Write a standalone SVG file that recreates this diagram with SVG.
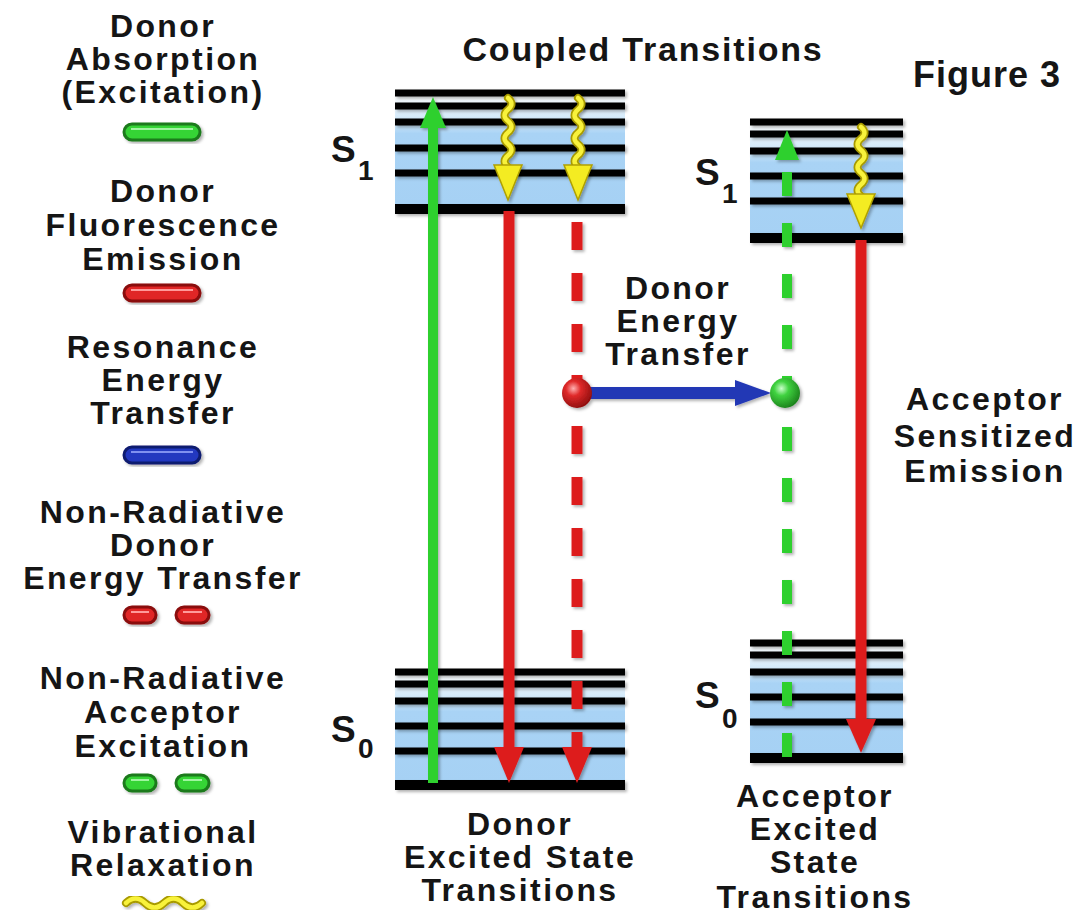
<svg xmlns="http://www.w3.org/2000/svg" width="1078" height="916" viewBox="0 0 1078 916">
<defs>
<style>
text{font-family:"Liberation Sans",Arial,Helvetica,sans-serif;font-weight:bold;fill:#151515}
.t{font-size:32px;letter-spacing:2.4px;text-anchor:middle}
.ttl{font-size:34px;letter-spacing:1.8px;text-anchor:middle}
.fig{font-size:36px;letter-spacing:1px;text-anchor:middle}
.s{font-size:37px}
.sub{font-size:28px}
.lv{stroke:#000;stroke-width:7;fill:none}
.lvb{stroke:#000;stroke-width:10;fill:none}
.grn{stroke:#2fd02f;stroke-width:10;fill:none}
.red{stroke:#dd1f1f;stroke-width:11;fill:none}
.gh{fill:#2fd02f}
.rh{fill:#dd1f1f}
.yo{stroke:#a89a00;stroke-width:8;fill:none;stroke-linecap:round}
.yi{stroke:#f8f23a;stroke-width:4.5;fill:none;stroke-linecap:round}
.yh{fill:#f4ec22;stroke:#b0a000;stroke-width:1.5}
</style>
<linearGradient id="bgS1" x1="0" y1="0" x2="0" y2="1">
<stop offset="0" stop-color="#ffffff"/><stop offset="0.28" stop-color="#c6e3f8"/><stop offset="0.35" stop-color="#a9d3f5"/><stop offset="1" stop-color="#a6d1f4"/>
</linearGradient>
<radialGradient id="rs" cx="0.38" cy="0.35" r="0.7">
<stop offset="0" stop-color="#ffb0b0"/><stop offset="0.35" stop-color="#e02a2a"/><stop offset="1" stop-color="#8a0c0c"/>
</radialGradient>
<radialGradient id="gs" cx="0.38" cy="0.35" r="0.7">
<stop offset="0" stop-color="#caffca"/><stop offset="0.35" stop-color="#3fd23f"/><stop offset="1" stop-color="#1a7d1a"/>
</radialGradient>
<filter id="sh" x="-20%" y="-20%" width="140%" height="140%">
<feDropShadow dx="2" dy="2" stdDeviation="1.5" flood-color="#000" flood-opacity="0.3"/>
</filter>
</defs>
<rect width="1078" height="916" fill="#ffffff"/>

<g id="title">
<text class="ttl" x="643" y="61">Coupled Transitions</text>
<text class="fig" x="987" y="87">Figure 3</text>
</g>

<g id="legend">
<g id="legend-absorption">
<text class="t" x="163" y="37">Donor</text>
<text class="t" x="163" y="70">Absorption</text>
<text class="t" x="163" y="103">(Excitation)</text>
<rect x="124" y="124" width="76" height="16" rx="8" fill="#35d435" stroke="#1b7a1b" stroke-width="3" filter="url(#sh)"/>
<line x1="131" y1="129" x2="193" y2="129" stroke="#9ff59f" stroke-width="2"/>
</g>
<g id="legend-fluorescence">
<text class="t" x="163" y="202">Donor</text>
<text class="t" x="163" y="236">Fluorescence</text>
<text class="t" x="163" y="270">Emission</text>
<rect x="124" y="285" width="76" height="16" rx="8" fill="#e02626" stroke="#8a0c0c" stroke-width="3" filter="url(#sh)"/>
<line x1="131" y1="290" x2="193" y2="290" stroke="#ff9a9a" stroke-width="2"/>
</g>
<g id="legend-resonance">
<text class="t" x="163" y="358">Resonance</text>
<text class="t" x="163" y="391">Energy</text>
<text class="t" x="163" y="424">Transfer</text>
<rect x="124" y="447" width="76" height="16" rx="8" fill="#2339c0" stroke="#101a70" stroke-width="3" filter="url(#sh)"/>
<line x1="131" y1="452" x2="193" y2="452" stroke="#7f90f0" stroke-width="2"/>
</g>
<g id="legend-nonrad-donor">
<text class="t" x="163" y="523">Non-Radiative</text>
<text class="t" x="163" y="556">Donor</text>
<text class="t" x="163" y="589">Energy Transfer</text>
<rect x="124" y="607" width="32" height="16" rx="8" fill="#e02626" stroke="#8a0c0c" stroke-width="3" filter="url(#sh)"/>
<rect x="176" y="607" width="33" height="16" rx="8" fill="#e02626" stroke="#8a0c0c" stroke-width="3" filter="url(#sh)"/>
<line x1="131" y1="612" x2="149" y2="612" stroke="#ff9a9a" stroke-width="2"/>
<line x1="183" y1="612" x2="202" y2="612" stroke="#ff9a9a" stroke-width="2"/>
</g>
<g id="legend-nonrad-acceptor">
<text class="t" x="163" y="689">Non-Radiative</text>
<text class="t" x="163" y="723">Acceptor</text>
<text class="t" x="163" y="757">Excitation</text>
<rect x="124" y="775" width="32" height="16" rx="8" fill="#35d435" stroke="#1b7a1b" stroke-width="3" filter="url(#sh)"/>
<rect x="176" y="775" width="33" height="16" rx="8" fill="#35d435" stroke="#1b7a1b" stroke-width="3" filter="url(#sh)"/>
<line x1="131" y1="780" x2="149" y2="780" stroke="#9ff59f" stroke-width="2"/>
<line x1="183" y1="780" x2="202" y2="780" stroke="#9ff59f" stroke-width="2"/>
</g>
<g id="legend-vibrational">
<text class="t" x="163" y="843">Vibrational</text>
<text class="t" x="163" y="876">Relaxation</text>
<g filter="url(#sh)">
<path class="yo" d="M126,903 q9.5,-9 19,0 t19,0 t19,0 t19,0"/>
<path class="yi" d="M126,903 q9.5,-9 19,0 t19,0 t19,0 t19,0"/>
</g>
</g>
</g>

<g id="donor-S1">
<rect x="395" y="93" width="230" height="116" fill="url(#bgS1)"/>
<g filter="url(#sh)">
<line class="lv" x1="395" y1="93" x2="625" y2="93"/>
<line class="lv" x1="395" y1="106" x2="625" y2="106"/>
<line class="lv" x1="395" y1="122" x2="625" y2="122"/>
<line class="lv" x1="395" y1="148" x2="625" y2="148"/>
<line class="lv" x1="395" y1="173" x2="625" y2="173"/>
<line class="lvb" x1="395" y1="209" x2="625" y2="209"/>
</g>
<text class="s" x="331" y="162">S</text><text class="sub" x="358" y="180">1</text>
</g>

<g id="donor-S0">
<rect x="395" y="672" width="230" height="113" fill="url(#bgS1)"/>
<g filter="url(#sh)">
<line class="lv" x1="395" y1="672" x2="625" y2="672"/>
<line class="lv" x1="395" y1="684" x2="625" y2="684"/>
<line class="lv" x1="395" y1="701" x2="625" y2="701"/>
<line class="lv" x1="395" y1="726" x2="625" y2="726"/>
<line class="lv" x1="395" y1="751" x2="625" y2="751"/>
<line class="lvb" x1="395" y1="785" x2="625" y2="785"/>
</g>
<text class="s" x="331" y="742">S</text><text class="sub" x="358" y="758">0</text>
</g>

<g id="acceptor-S1">
<rect x="750" y="122" width="153" height="116" fill="url(#bgS1)"/>
<g filter="url(#sh)">
<line class="lv" x1="750" y1="122" x2="903" y2="122"/>
<line class="lv" x1="750" y1="134" x2="903" y2="134"/>
<line class="lv" x1="750" y1="151" x2="903" y2="151"/>
<line class="lv" x1="750" y1="176" x2="903" y2="176"/>
<line class="lv" x1="750" y1="201" x2="903" y2="201"/>
<line class="lvb" x1="750" y1="238" x2="903" y2="238"/>
</g>
<text class="s" x="695" y="185">S</text><text class="sub" x="722" y="203">1</text>
</g>

<g id="acceptor-S0">
<rect x="750" y="643" width="153" height="115" fill="url(#bgS1)"/>
<g filter="url(#sh)">
<line class="lv" x1="750" y1="643" x2="903" y2="643"/>
<line class="lv" x1="750" y1="655" x2="903" y2="655"/>
<line class="lv" x1="750" y1="672" x2="903" y2="672"/>
<line class="lv" x1="750" y1="697" x2="903" y2="697"/>
<line class="lv" x1="750" y1="722" x2="903" y2="722"/>
<line class="lvb" x1="750" y1="758" x2="903" y2="758"/>
</g>
<text class="s" x="695" y="708">S</text><text class="sub" x="722" y="728">0</text>
</g>

<g id="connectors" filter="url(#sh)">
<line class="grn" x1="433" y1="783" x2="433" y2="124"/>
<polygon class="gh" points="420,128 446,128 433,97"/>
<line class="red" x1="509" y1="211" x2="509" y2="750"/>
<polygon class="rh" points="494,747 524,747 509,783"/>
<line class="red" x1="577" y1="222" x2="577" y2="750" stroke-dasharray="28 23"/>
<polygon class="rh" points="562,747 592,747 577,783"/>
<line class="grn" x1="787" y1="757" x2="787" y2="158" stroke-dasharray="24 27"/>
<polygon class="gh" points="775,160 799,160 787,130"/>
<line class="red" x1="861" y1="240" x2="861" y2="722"/>
<polygon class="rh" points="846,719 876,719 861,753"/>
<path class="yo" d="M508,98 q7,5.75 0,11.5 t0,11.5 t0,11.5 t0,11.5 t0,11.5 t0,11.5"/>
<path class="yi" d="M508,98 q7,5.75 0,11.5 t0,11.5 t0,11.5 t0,11.5 t0,11.5 t0,11.5"/>
<polygon class="yh" points="494,165 522,165 508,200"/>
<path class="yo" d="M578,98 q7,5.75 0,11.5 t0,11.5 t0,11.5 t0,11.5 t0,11.5 t0,11.5"/>
<path class="yi" d="M578,98 q7,5.75 0,11.5 t0,11.5 t0,11.5 t0,11.5 t0,11.5 t0,11.5"/>
<polygon class="yh" points="564,165 592,165 578,200"/>
<path class="yo" d="M861,127 q7,5.75 0,11.5 t0,11.5 t0,11.5 t0,11.5 t0,11.5 t0,11.5"/>
<path class="yi" d="M861,127 q7,5.75 0,11.5 t0,11.5 t0,11.5 t0,11.5 t0,11.5 t0,11.5"/>
<polygon class="yh" points="847,194 875,194 861,228"/>
<line x1="577" y1="393" x2="740" y2="393" stroke="#2337b5" stroke-width="12"/>
<polygon points="735,380 735,406 771,393" fill="#2337b5"/>
<circle cx="577" cy="393" r="15" fill="url(#rs)"/>
<circle cx="785" cy="393" r="15" fill="url(#gs)"/>
</g>

<g id="labels">
<text class="t" x="678" y="299">Donor</text>
<text class="t" x="678" y="332">Energy</text>
<text class="t" x="678" y="365">Transfer</text>
<text class="t" x="985" y="410">Acceptor</text>
<text class="t" x="985" y="447">Sensitized</text>
<text class="t" x="985" y="482">Emission</text>
<text class="t" x="520" y="835">Donor</text>
<text class="t" x="520" y="868">Excited State</text>
<text class="t" x="520" y="901">Transitions</text>
<text class="t" x="815" y="807">Acceptor</text>
<text class="t" x="815" y="840">Excited</text>
<text class="t" x="815" y="873">State</text>
<text class="t" x="815" y="908">Transitions</text>
</g>
</svg>
